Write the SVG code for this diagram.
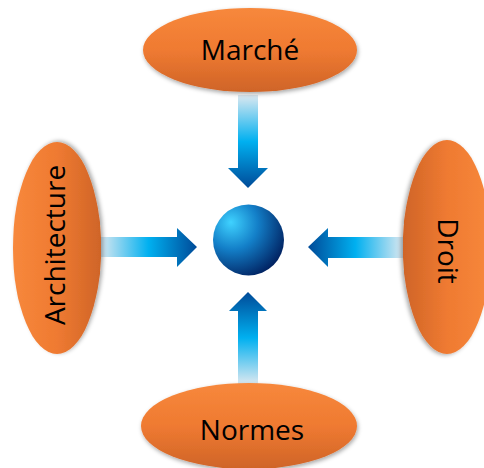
<svg xmlns="http://www.w3.org/2000/svg" width="484" height="468" viewBox="0 0 484 468">
<style>
.lbl{font-family:"Open Sans","Noto Sans","DejaVu Sans",sans-serif;font-size:28px;fill:#000;text-anchor:middle}
.ell{fill:url(#og);filter:url(#sh)}
</style>
<defs>
<linearGradient id="og" x1="0" y1="0" x2="0" y2="1">
<stop offset="0" stop-color="#f7883c"/>
<stop offset="0.5" stop-color="#ef7a31"/>
<stop offset="1" stop-color="#cf6428"/>
</linearGradient>
<filter id="sh" x="-20%" y="-20%" width="140%" height="140%">
<feDropShadow dx="1" dy="2" stdDeviation="2" flood-color="#000" flood-opacity="0.35"/>
</filter>
<radialGradient id="sg" cx="0.3" cy="0.3" r="0.8" fx="0.25" fy="0.25">
<stop offset="0" stop-color="#3fd2ff"/>
<stop offset="0.45" stop-color="#137fc8"/>
<stop offset="1" stop-color="#001d5c"/>
</radialGradient>
<linearGradient id="gd" gradientUnits="userSpaceOnUse" x1="0" y1="95" x2="0" y2="188">
<stop offset="0" stop-color="#dce8f0"/>
<stop offset="0.5" stop-color="#00b0f0"/>
<stop offset="1" stop-color="#004a98"/>
</linearGradient>
<linearGradient id="gu" gradientUnits="userSpaceOnUse" x1="0" y1="384" x2="0" y2="292">
<stop offset="0" stop-color="#dce8f0"/>
<stop offset="0.5" stop-color="#00b0f0"/>
<stop offset="1" stop-color="#004a98"/>
</linearGradient>
<linearGradient id="gr" gradientUnits="userSpaceOnUse" x1="100" y1="0" x2="197" y2="0">
<stop offset="0" stop-color="#dce8f0"/>
<stop offset="0.5" stop-color="#00b0f0"/>
<stop offset="1" stop-color="#004a98"/>
</linearGradient>
<linearGradient id="gl" gradientUnits="userSpaceOnUse" x1="403" y1="0" x2="308" y2="0">
<stop offset="0" stop-color="#dce8f0"/>
<stop offset="0.5" stop-color="#00b0f0"/>
<stop offset="1" stop-color="#004a98"/>
</linearGradient>
</defs>
<g id="connectors">
<path d="M238,95 H258 V168 H268 L248,188 L228,168 H238 Z" fill="url(#gd)"/>
<path d="M100,237 V257 H177 V267 L197,247 L177,228 V237 Z" fill="url(#gr)"/>
<path d="M403,237 V258 H328 V267 L308,247 L328,228 V237 Z" fill="url(#gl)"/>
<path d="M238,384 H258 V311 H267 L248,292 L229,311 H238 Z" fill="url(#gu)"/>
</g>
<g id="center">
<circle cx="248.5" cy="240" r="35.5" fill="url(#sg)"/>
</g>
<g id="marche">
<ellipse class="ell" cx="250" cy="50" rx="107" ry="42"/>
<text class="lbl" x="250" y="60">Marché</text>
</g>
<g id="architecture">
<ellipse class="ell" cx="0" cy="0" rx="106" ry="44" transform="translate(57,248) rotate(-90)"/>
<text class="lbl" transform="translate(65,245) rotate(-90)">Architecture</text>
</g>
<g id="droit">
<ellipse class="ell" cx="0" cy="0" rx="107" ry="44" transform="translate(447,247) rotate(90)"/>
<text class="lbl" transform="translate(438,251) rotate(90)">Droit</text>
</g>
<g id="normes">
<ellipse class="ell" cx="249" cy="426" rx="108" ry="43"/>
<text class="lbl" x="252" y="440">Normes</text>
</g>
</svg>
